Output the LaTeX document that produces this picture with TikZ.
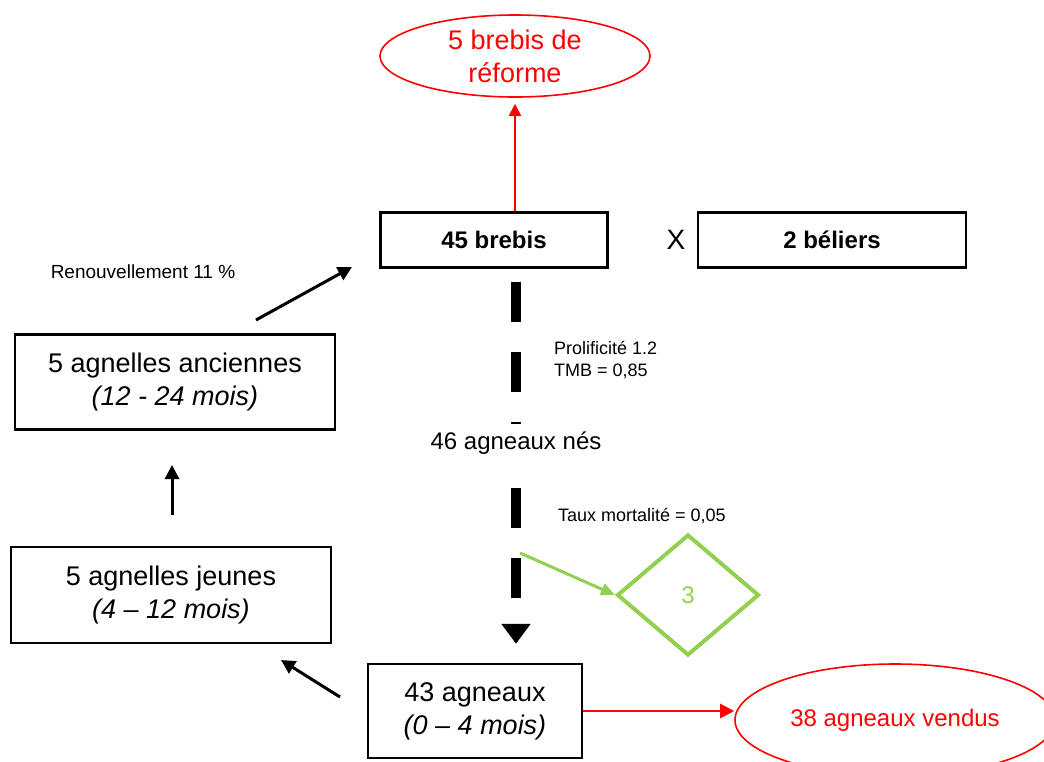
\documentclass[tikz,border=0pt]{standalone}
\usepackage{fontspec}
\setmainfont{Liberation Sans}
\usetikzlibrary{shapes.geometric,arrows.meta}
\definecolor{vert}{HTML}{92D050}
\tikzset{
	boite/.style = {draw, line width = 1.2pt, rectangle, align = center, inner sep = 2pt},
	grand/.style = {font = \fontsize{13.5}{16.5}\selectfont},
	petit/.style = {font = \fontsize{9}{11}\selectfont},
	rouge/.style = {draw = red, ellipse, text = red, line width = 0.8pt, align = center},
	fleche/.style = {line width = 1.5pt, -{Triangle[length = 7pt, width = 7pt]}},
	pointille/.style = {line width = 5pt, dash pattern = on 20pt off 15pt}
}

\begin{document}
\begin{tikzpicture}[x = 0.5pt, y = -0.5pt]
		\useasboundingbox (0, 0) rectangle (1044, 761);
		\clip (0, 0) rectangle (1044, 761);
		% brebis et beliers
		\node[boite, minimum width = 113.5pt, minimum height = 27.5pt, font = \fontsize{12}{14}\selectfont\bfseries] (b45) at (494, 240) {45 brebis};
		\node[font = \fontsize{14}{16}\selectfont] (croix) at (676, 240) {X};
		\node[boite, minimum width = 134pt, minimum height = 27.5pt, font = \fontsize{12}{14}\selectfont\bfseries] (belier) at (832, 240) {2 béliers};
		\node[rouge, grand, minimum width = 135pt, minimum height = 41pt, inner sep = 0pt] (reforme) at (515, 56) {5 brebis de\\réforme};
		\draw[red, line width = 1pt, -{Triangle[length = 6pt, width = 6pt]}, shorten > = 3pt] (reforme.south |- b45.north) -- (reforme.south);
		% agnelles
		\node[boite, grand, minimum width = 160pt, minimum height = 47.5pt] (anc) at (175, 382) {5 agnelles anciennes\\\textit{(12 - 24 mois)}};
		\node[boite, grand, minimum width = 160pt, minimum height = 48pt] (jeu) at (171, 595) {5 agnelles jeunes\\\textit{(4 – 12 mois)}};
		\node[petit, font = \fontsize{9.5}{11}\selectfont] (renouv) at (143, 272) {Renouvellement 11 \%};
		\coordinate (r1) at (256, 320);
		\coordinate (r2) at (352, 267);
		\coordinate (j1) at (172, 515);
		\coordinate (j2) at (172, 465);
		\coordinate (a1) at (340, 697);
		\coordinate (a2) at (281, 660);
		\draw[fleche] (r1) -- (r2);
		\draw[fleche] (j1) -- (j2);
		\draw[fleche] (a1) -- (a2);
		% agneaux
		\node[font = \fontsize{12}{14}\selectfont, inner sep = 2pt] (nes) at (516, 443) {46 agneaux nés};
		\node[petit, anchor = west, align = left] (prolif) at (547, 360) {Prolificité 1.2\\TMB = 0,85};
		\node[petit, anchor = west] (taux) at (551, 516) {Taux mortalité = 0,05};
		\node[boite, grand, minimum width = 107pt, minimum height = 47pt] (ag) at (475, 711) {43 agneaux\\\textit{(0 – 4 mois)}};
		\node[diamond, draw = vert, line width = 2pt, minimum width = 71pt, minimum height = 60.5pt, inner sep = 0pt, text = vert, font = \fontsize{12}{14}\selectfont] (morts) at (688, 595) {3};
		\node[rouge, minimum width = 160pt, minimum height = 56pt, font = \fontsize{12}{14}\selectfont] (vendus) at (895, 720) {38 agneaux vendus};
		\coordinate (mort) at (520, 553);
		\draw[pointille, shorten < = 6.5pt, shorten > = 1.5pt] (nes |- b45.south) -- (nes.north);
		\draw[pointille, shorten < = 14.5pt, shorten > = 9.5pt, -{Triangle[length = 10pt, width = 14pt]}] (nes.south) -- (nes.south |- ag.north);
		\draw[vert, line width = 1.5pt, -{Triangle[length = 7pt, width = 6pt]}] (mort) -- (morts.west);
		\draw[red, line width = 1.2pt, -{Triangle[length = 7pt, width = 7pt]}] (ag.east) -- (ag.east -| vendus.west);
	\end{tikzpicture}
\end{document}
